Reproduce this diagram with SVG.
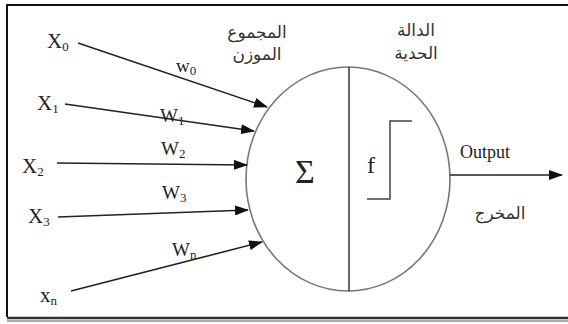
<svg xmlns="http://www.w3.org/2000/svg" width="568" height="324" viewBox="0 0 568 324">
<style>
.lbl{font-family:"Liberation Serif","Times New Roman",serif;fill:#222}
.ar{font-family:"DejaVu Sans","Noto Sans",sans-serif;fill:#333;font-size:17px}
.sub{font-size:13px}
.conn{stroke:#222;stroke-width:1.6;fill:none}
</style>
<defs>
<marker id="ah" markerUnits="userSpaceOnUse" markerWidth="14" markerHeight="10" refX="13" refY="5" orient="auto">
<path d="M0,0 L14,5 L0,10 Z" fill="#111"/>
</marker>
</defs>
<rect x="0" y="0" width="568" height="324" fill="#fff"/>
<path d="M7,317 L7,5 L570,5" fill="none" stroke="#111" stroke-width="2"/>
<line x1="7" y1="318" x2="568" y2="318" stroke="#333" stroke-width="2.5"/>
<line x1="7" y1="321" x2="568" y2="321" stroke="#aaa" stroke-width="2"/>

<g id="neuron">
<ellipse cx="348" cy="179" rx="102" ry="112" fill="#fff" stroke="#777" stroke-width="1.6"/>
<line x1="349" y1="67" x2="349" y2="291" stroke="#333" stroke-width="1.5"/>
<text class="lbl" x="305" y="183" font-size="34" text-anchor="middle">Σ</text>
<text class="lbl" x="371" y="173" font-size="24" text-anchor="middle">f</text>
<path d="M412,121 L390,121 L390,199 L367,199" fill="none" stroke="#444" stroke-width="1.5"/>
</g>

<g id="sum-label">
<text class="ar" x="257" y="38" text-anchor="middle" direction="rtl">المجموع</text>
<text class="ar" x="257" y="60" text-anchor="middle" direction="rtl">الموزن</text>
</g>
<g id="act-label">
<text class="ar" x="416" y="36" text-anchor="middle" direction="rtl">الدالة</text>
<text class="ar" x="416" y="59" text-anchor="middle" direction="rtl">الحدية</text>
</g>

<g id="x0"><text class="lbl" x="47" y="48" font-size="21">X<tspan class="sub" dy="3">0</tspan></text></g>
<g id="x1"><text class="lbl" x="37" y="110" font-size="21">X<tspan class="sub" dy="3">1</tspan></text></g>
<g id="x2"><text class="lbl" x="22" y="173" font-size="21">X<tspan class="sub" dy="3">2</tspan></text></g>
<g id="x3"><text class="lbl" x="28" y="223" font-size="21">X<tspan class="sub" dy="3">3</tspan></text></g>
<g id="xn"><text class="lbl" x="40" y="302" font-size="21">x<tspan class="sub" dy="3">n</tspan></text></g>

<g id="output"><text class="lbl" x="460" y="158" font-size="18">Output</text>
<text class="ar" x="500" y="219" text-anchor="middle" direction="rtl">المخرج</text></g>

<g id="connectors">
<line class="conn" x1="78" y1="43" x2="267" y2="107" marker-end="url(#ah)"/>
<line class="conn" x1="65" y1="104" x2="254" y2="131" marker-end="url(#ah)"/>
<line class="conn" x1="57" y1="163" x2="247" y2="165" marker-end="url(#ah)"/>
<line class="conn" x1="58" y1="217" x2="248" y2="210" marker-end="url(#ah)"/>
<line class="conn" x1="71" y1="291" x2="262" y2="242" marker-end="url(#ah)"/>
<line class="conn" x1="450" y1="175" x2="562" y2="175" marker-end="url(#ah)"/>
<text class="lbl" x="176" y="72" font-size="19">w<tspan class="sub" dy="3">0</tspan></text>
<text class="lbl" x="160" y="122" font-size="19">W<tspan class="sub" dy="3">1</tspan></text>
<text class="lbl" x="161" y="155" font-size="19">W<tspan class="sub" dy="3">2</tspan></text>
<text class="lbl" x="162" y="199" font-size="19">W<tspan class="sub" dy="3">3</tspan></text>
<text class="lbl" x="172" y="256" font-size="19">W<tspan class="sub" dy="3">n</tspan></text>
</g>
</svg>
